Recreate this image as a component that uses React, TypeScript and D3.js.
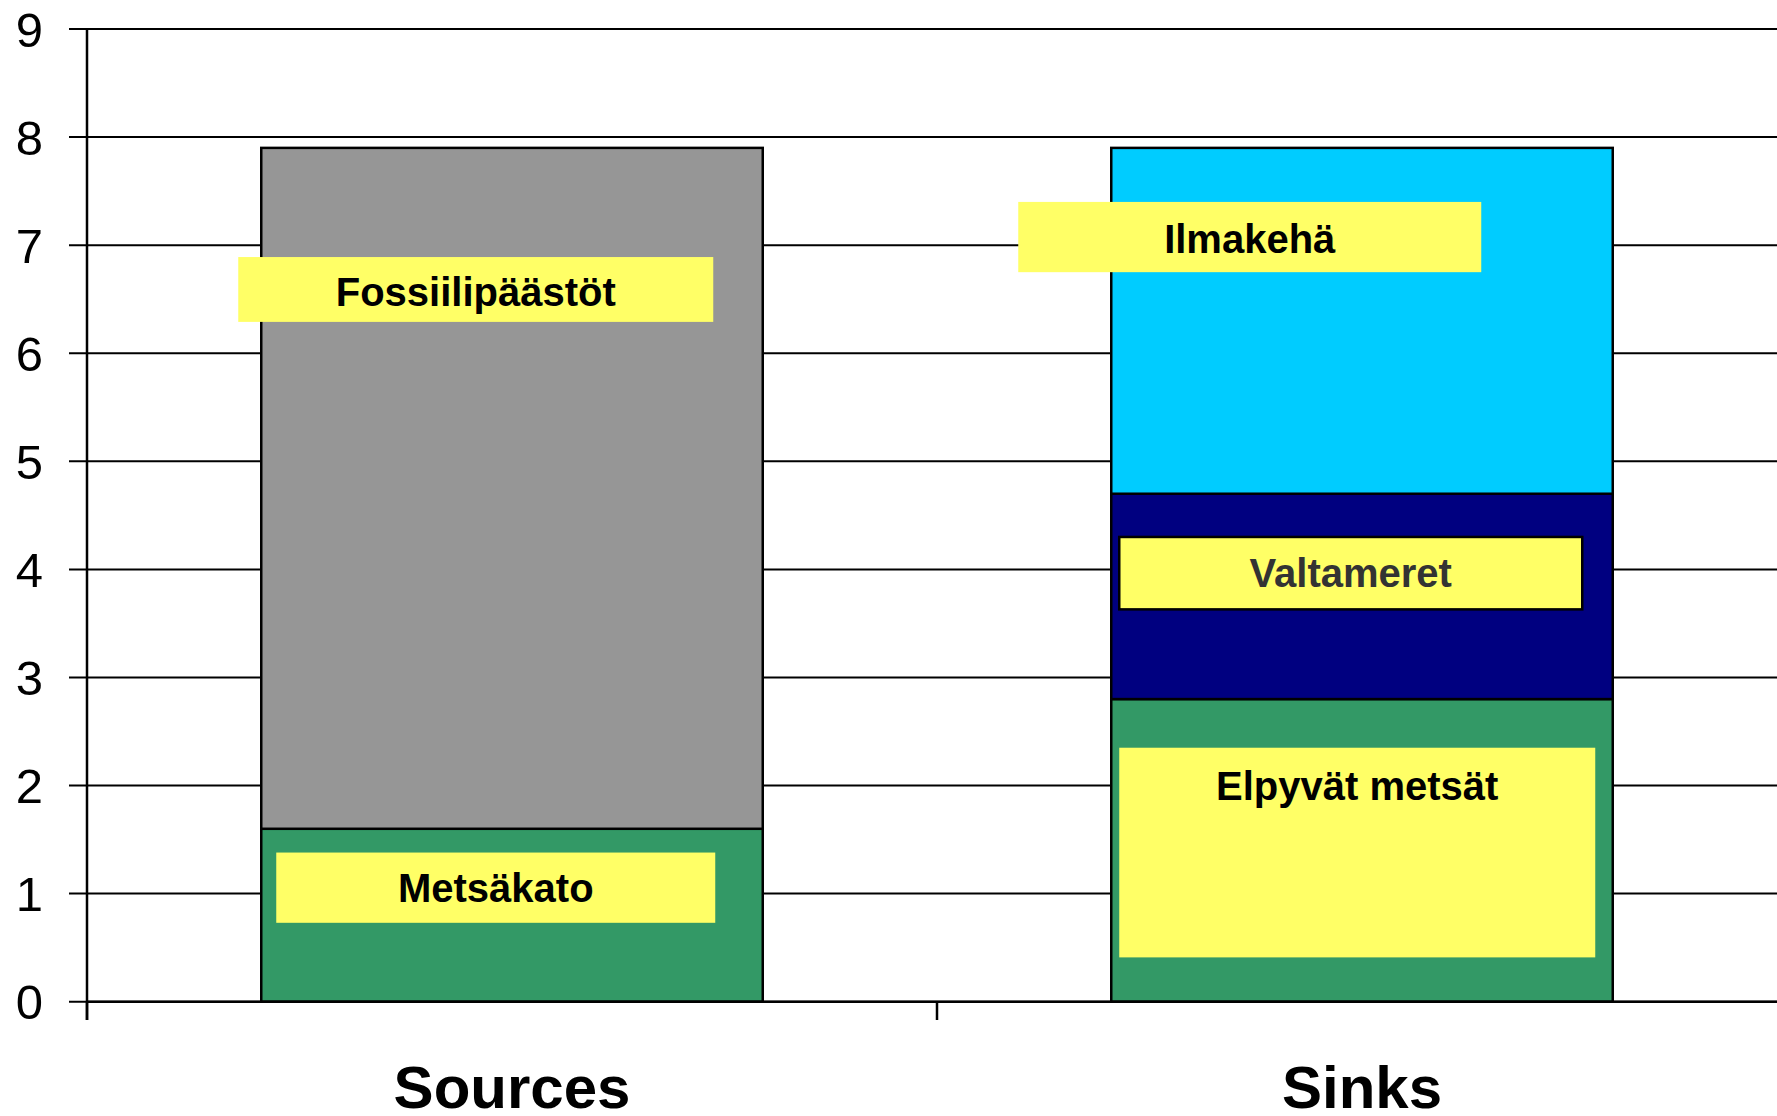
import React from 'react';
import * as d3 from 'd3';

// Chart data
const categories = ["Sources", "Sinks"];
const sourceNames = ["Metsäkato", "Fossiilipäästöt"];
const sourceValues = [1.6, 6.3];
const sinkNames = ["Elpyvät metsät", "Valtameret", "Ilmakehä"];
const sinkValues = [2.8, 1.9, 3.2];
const yTicks = [0, 1, 2, 3, 4, 5, 6, 7, 8, 9];

// Label boxes: category, y range (data units), x offset from bar left (px)
const labelBoxes = [
  { text: "Fossiilipäästöt", cat: "Sources", y0: 6.29, y1: 6.89, textY: 6.57, dx0: -23, dx1: 452, border: false, color: "#000" },
  { text: "Metsäkato", cat: "Sources", y0: 0.73, y1: 1.38, textY: 1.05, dx0: 15, dx1: 454, border: false, color: "#000" },
  { text: "Ilmakehä", cat: "Sinks", y0: 6.75, y1: 7.4, textY: 7.06, dx0: -93, dx1: 370, border: false, color: "#000" },
  { text: "Valtameret", cat: "Sinks", y0: 3.63, y1: 4.3, textY: 3.97, dx0: 8, dx1: 471, border: true, color: "#333" },
  { text: "Elpyvät metsät", cat: "Sinks", y0: 0.41, y1: 2.35, textY: 2.0, dx0: 8, dx1: 484, border: false, color: "#000" },
];

const sourceColors = ["#339966", "#969696"];
const sinkColors = ["#339966", "#000080", "#00CCFF"];

const W = 1777;
const H = 1116;
const x0 = 87;
const x1 = 1787;

export default function App() {
  const y = d3.scaleLinear().domain([0, 9]).range([1001.7, 29]);
  const x = d3.scaleBand<string>().domain(categories).range([x0, x1]);
  const barW = x.bandwidth() * 0.59;
  const barLeft = (c: string) => (x(c) as number) + (x.bandwidth() - barW) / 2;

  const stacks = [
    { cat: "Sources", names: sourceNames, values: sourceValues, colors: sourceColors },
    { cat: "Sinks", names: sinkNames, values: sinkValues, colors: sinkColors },
  ];

  const font = "'Liberation Sans', Arial, sans-serif";

  return (
    <svg width={W} height={H} viewBox={`0 0 ${W} ${H}`}
      style={{ position: 'absolute', left: 0, top: 0, background: '#fff' }}>
      {/* gridlines + y ticks */}
      {yTicks.map(t => (
        <g key={t}>
          <line x1={69} x2={W} y1={y(t)} y2={y(t)} stroke="#000" strokeWidth={2} />
          <text x={43} y={y(t)} dy="0.36em" textAnchor="end" fontFamily={font} fontSize={49} fill="#000">{t}</text>
        </g>
      ))}
      {/* bars */}
      {stacks.map(s => {
        const cum = [0, ...Array.from(d3.cumsum(s.values))];
        return s.values.map((v, i) => (
          <rect key={s.cat + i} x={barLeft(s.cat)} width={barW}
            y={y(cum[i + 1])} height={y(cum[i]) - y(cum[i + 1])}
            fill={s.colors[i]} stroke="#000" strokeWidth={2.5} />
        ));
      })}
      {/* axes */}
      <line x1={x0} x2={x0} y1={y(9)} y2={1020} stroke="#000" strokeWidth={2.5} />
      <line x1={x0} x2={W} y1={y(0)} y2={y(0)} stroke="#000" strokeWidth={2.5} />
      {[x0, x0 + x.step(), x1].map(v => (
        <line key={v} x1={v} x2={v} y1={y(0)} y2={1020} stroke="#000" strokeWidth={2.5} />
      ))}
      {/* label boxes */}
      {labelBoxes.map(b => {
        const left = barLeft(b.cat);
        return (
          <g key={b.text}>
            <rect x={left + b.dx0} width={b.dx1 - b.dx0} y={y(b.y1)} height={y(b.y0) - y(b.y1)}
              fill="#FFFF66" stroke={b.border ? "#000" : "none"} strokeWidth={2.5} />
            <text x={left + (b.dx0 + b.dx1) / 2} y={y(b.textY)} dy="0.35em" textAnchor="middle"
              fontFamily={font} fontWeight="bold" fontSize={40} fill={b.color}>{b.text}</text>
          </g>
        );
      })}
      {/* category labels */}
      {categories.map(c => (
        <text key={c} x={(x(c) as number) + x.bandwidth() / 2} y={1108} textAnchor="middle"
          fontFamily={font} fontWeight="bold" fontSize={60} fill="#000">{c}</text>
      ))}
    </svg>
  );
}
